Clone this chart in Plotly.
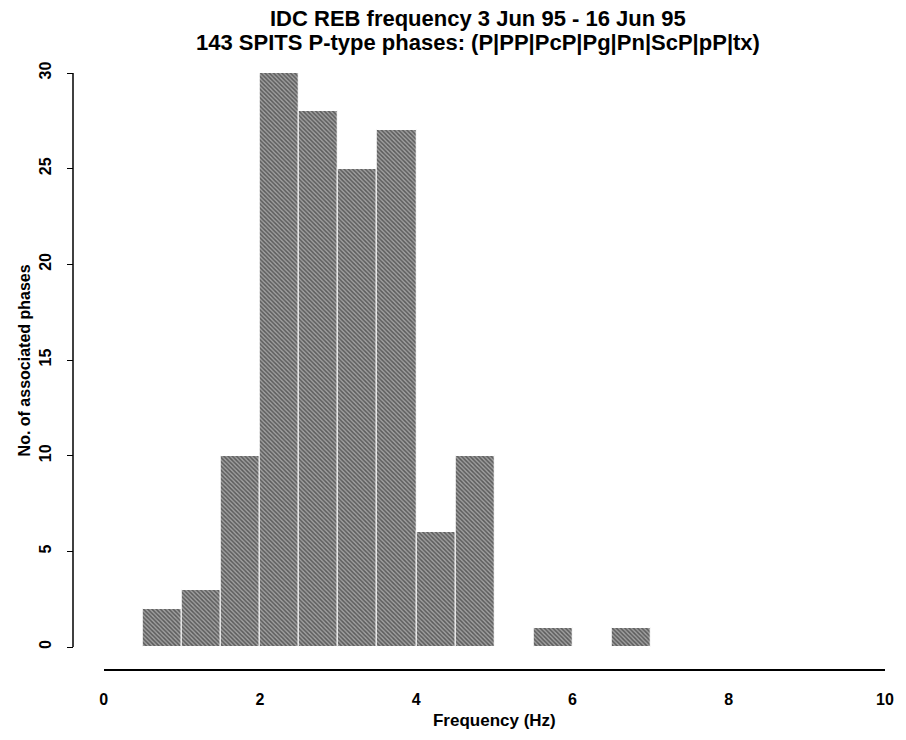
import plotly.graph_objects as go

# Data (0.5 Hz bins)
bin_starts = [0.5, 1.0, 1.5, 2.0, 2.5, 3.0, 3.5, 4.0, 4.5, 5.0, 5.5, 6.0, 6.5]
bin_width = 0.5
counts = [2, 3, 10, 30, 28, 25, 27, 6, 10, 0, 1, 0, 1]

x_ticks = [0, 2, 4, 6, 8, 10]
y_ticks = [0, 5, 10, 15, 20, 25, 30]

title_lines = [
    "IDC REB frequency 3 Jun 95 - 16 Jun 95",
    "143 SPITS P-type phases: (P|PP|PcP|Pg|Pn|ScP|pP|tx)",
]
x_title = "Frequency (Hz)"
y_title = "No. of associated phases"

FONT = "Liberation Sans"

fig = go.Figure()
fig.add_trace(go.Bar(
    x=bin_starts,
    y=counts,
    width=[bin_width] * len(bin_starts),
    offset=0,
    marker=dict(
        color="#808080",
        line=dict(color="white", width=1),
        pattern=dict(shape="\\", fgcolor="#151515", bgcolor="#a0a0a0",
                     size=3, solidity=0.5),
    ),
    showlegend=False,
))

W, H = 906, 740
left_axis_px = 73
plot_right_px = 892
x0_px = 104
top_px, bottom_px = 73, 669
plot_w = plot_right_px - left_axis_px
plot_h = bottom_px - top_px

fig.update_layout(
    width=W, height=H,
    margin=dict(l=left_axis_px, r=W - plot_right_px, t=top_px, b=H - bottom_px),
    paper_bgcolor="white", plot_bgcolor="white",
    font=dict(family=FONT, color="black"),
    bargap=0,
    xaxis=dict(
        domain=[(x0_px - left_axis_px) / plot_w, 1],
        range=[0, 10],
        tickvals=x_ticks,
        ticktext=[f"<b>{v}</b>" for v in x_ticks],
        ticks="outside", ticklen=15, tickcolor="rgba(0,0,0,0)",
        showline=True, linecolor="black", linewidth=1.5,
        showgrid=False, zeroline=False,
        tickfont=dict(family=FONT, size=16),
        title=dict(text="<b>" + x_title + "</b>", font=dict(family=FONT, size=17), standoff=7),
    ),
    yaxis=dict(
        anchor="free", position=0,
        range=[-1.15, 30],
        tickvals=y_ticks,
        ticktext=[f"<b>{v}</b>" for v in y_ticks],
        tickangle=-90,
        ticks="outside", ticklen=6, tickcolor="black", tickwidth=1,
        ticklabelstandoff=10,
        showline=False, showgrid=False, zeroline=False,
        tickfont=dict(family=FONT, size=16),
    ),
)

# y-axis title centred on the 0..30 tick span, like the reference
fig.add_annotation(
    text="<b>" + y_title + "</b>", xref="paper", yref="paper",
    x=(24 - left_axis_px) / plot_w, y=(bottom_px - 360) / plot_h,
    xanchor="center", yanchor="middle", textangle=-90, showarrow=False,
    font=dict(family=FONT, size=16, color="black"),
)

# Two-line title as annotations (centred over the figure like the reference)
for line, yc in zip(title_lines, [19, 43]):
    fig.add_annotation(
        text="<b>" + line + "</b>", xref="paper", yref="paper",
        x=(481 - left_axis_px) / plot_w, y=1 + (top_px - yc) / plot_h,
        xanchor="center", yanchor="middle", showarrow=False,
        font=dict(family=FONT, size=22, color="black"),
    )

# y axis line spanning only the tick range (0..30), as in the reference
fig.add_shape(type="line", xref="paper", yref="y",
              x0=0, x1=0, y0=y_ticks[0], y1=y_ticks[-1],
              line=dict(color="black", width=1.5))

fig.write_html("out.html")
